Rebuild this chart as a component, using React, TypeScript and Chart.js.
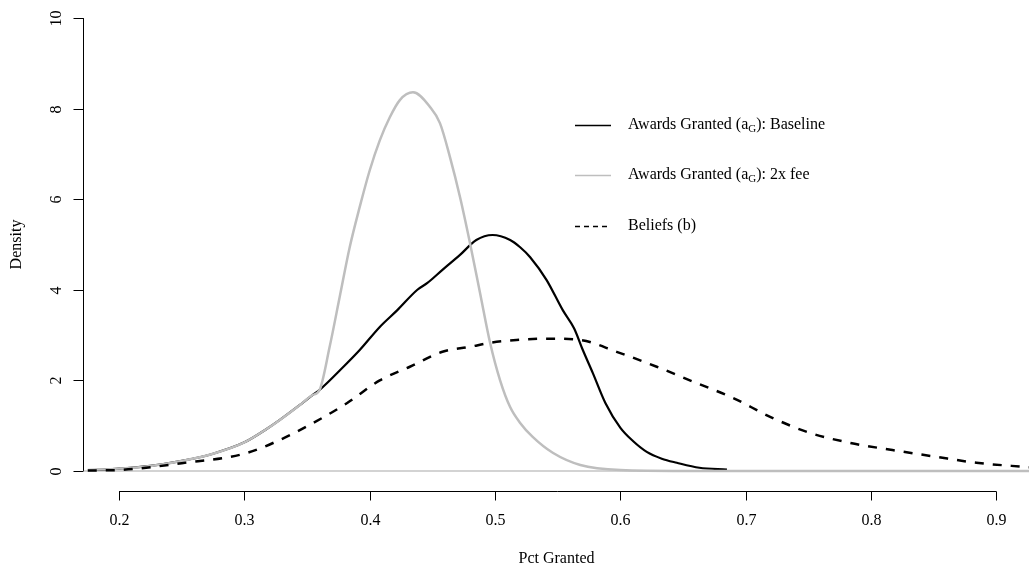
import React, { useEffect, useRef } from "react";
import { Chart, registerables } from "chart.js";

Chart.register(...registerables);

// ---- Data ----
const baselineX = [0.18, 0.2, 0.225, 0.25, 0.275, 0.3, 0.318, 0.328, 0.344, 0.354, 0.36, 0.379, 0.392, 0.408, 0.422, 0.438, 0.446, 0.458, 0.472, 0.485, 0.498, 0.512, 0.52, 0.528, 0.541, 0.554, 0.563, 0.57, 0.578, 0.588, 0.6, 0.61, 0.621, 0.633, 0.645, 0.663, 0.685];
const baselineY = [0.02, 0.05, 0.11, 0.22, 0.38, 0.63, 0.93, 1.12, 1.45, 1.67, 1.79, 2.3, 2.67, 3.18, 3.55, 4.0, 4.15, 4.44, 4.77, 5.1, 5.21, 5.1, 4.94, 4.72, 4.22, 3.55, 3.15, 2.67, 2.16, 1.5, 0.95, 0.66, 0.42, 0.27, 0.18, 0.07, 0.03];

const feeX = [0.175, 0.2, 0.225, 0.25, 0.275, 0.3, 0.318, 0.328, 0.344, 0.354, 0.36, 0.368, 0.376, 0.384, 0.392, 0.4, 0.408, 0.416, 0.424, 0.4345, 0.448, 0.456, 0.464, 0.472, 0.48, 0.488, 0.496, 0.504, 0.512, 0.52, 0.53, 0.546, 0.568, 0.6, 0.65, 0.7, 0.8, 0.926];
const feeY = [0.02, 0.05, 0.11, 0.22, 0.38, 0.63, 0.93, 1.12, 1.45, 1.67, 1.79, 2.74, 3.84, 4.94, 5.83, 6.64, 7.3, 7.81, 8.19, 8.36, 8.04, 7.68, 6.93, 6.05, 5.03, 3.93, 2.83, 2.0, 1.41, 1.06, 0.75, 0.4, 0.13, 0.02, 0, 0, 0, 0];

const beliefsX = [0.175, 0.2, 0.25, 0.3, 0.328, 0.355, 0.382, 0.408, 0.432, 0.458, 0.48, 0.496, 0.517, 0.541, 0.568, 0.597, 0.629, 0.658, 0.69, 0.719, 0.751, 0.783, 0.817, 0.852, 0.884, 0.926];
const beliefsY = [0.01, 0.02, 0.17, 0.38, 0.68, 1.06, 1.5, 2.0, 2.3, 2.63, 2.74, 2.83, 2.89, 2.92, 2.89, 2.63, 2.3, 1.97, 1.61, 1.2, 0.84, 0.62, 0.46, 0.31, 0.18, 0.08];

const xTicks = [0.2, 0.3, 0.4, 0.5, 0.6, 0.7, 0.8, 0.9];
const yTicks = [0, 2, 4, 6, 8, 10];

const legendItems = [
  { pre: "Awards Granted (a", sub: "G", post: "): Baseline", color: "#000000", dash: [] as number[] },
  { pre: "Awards Granted (a", sub: "G", post: "): 2x fee", color: "#bebebe", dash: [] as number[] },
  { pre: "Beliefs (b)", sub: "", post: "", color: "#000000", dash: [5, 4] },
];

const xTitle = "Pct Granted";
const yTitle = "Density";

const FONT = "'Liberation Serif', 'Times New Roman', serif";

const toPts = (xs: number[], ys: number[]) => xs.map((x, i) => ({ x, y: ys[i] }));

const axesPlugin = {
  id: "rAxes",
  beforeDatasetsDraw(chart: any) {
    const { ctx, chartArea, scales } = chart;
    const y0 = scales.y.getPixelForValue(0);
    ctx.save();
    ctx.strokeStyle = "#c4c4c4";
    ctx.lineWidth = 1.5;
    ctx.beginPath();
    ctx.moveTo(chartArea.left, y0);
    ctx.lineTo(chartArea.right, y0);
    ctx.stroke();
    ctx.restore();
  },
  afterDraw(chart: any) {
    const { ctx, chartArea, scales } = chart;
    const xs = scales.x;
    const ys = scales.y;
    ctx.save();
    ctx.strokeStyle = "#000";
    ctx.fillStyle = "#000";
    ctx.lineWidth = 1;

    // Y axis
    const ax = Math.round(chartArea.left) - 0.5;
    ctx.beginPath();
    ctx.moveTo(ax, ys.getPixelForValue(yTicks[0]));
    ctx.lineTo(ax, ys.getPixelForValue(yTicks[yTicks.length - 1]));
    ctx.stroke();
    ctx.font = `16px ${FONT}`;
    ctx.textAlign = "center";
    ctx.textBaseline = "middle";
    yTicks.forEach((t) => {
      const py = Math.round(ys.getPixelForValue(t)) + 0.5;
      ctx.beginPath();
      ctx.moveTo(ax - 10, py);
      ctx.lineTo(ax, py);
      ctx.stroke();
      ctx.save();
      ctx.translate(57, py);
      ctx.rotate(-Math.PI / 2);
      ctx.fillText(String(t), 0, 0);
      ctx.restore();
    });

    // X axis
    const ay = 491.5;
    ctx.beginPath();
    ctx.moveTo(xs.getPixelForValue(xTicks[0]), ay);
    ctx.lineTo(xs.getPixelForValue(xTicks[xTicks.length - 1]), ay);
    ctx.stroke();
    xTicks.forEach((t) => {
      const px = Math.round(xs.getPixelForValue(t)) + 0.5;
      ctx.beginPath();
      ctx.moveTo(px, ay);
      ctx.lineTo(px, ay + 9);
      ctx.stroke();
      ctx.fillText(t.toFixed(1), px, 521);
    });

    // Titles
    ctx.fillText(xTitle, (chartArea.left + chartArea.right) / 2, 559);
    ctx.save();
    ctx.translate(17, (chartArea.top + chartArea.bottom) / 2);
    ctx.rotate(-Math.PI / 2);
    ctx.fillText(yTitle, 0, 0);
    ctx.restore();

    // Legend
    const rows = [125, 175, 226];
    legendItems.forEach((it, i) => {
      const ly = rows[i] + 0.5;
      ctx.save();
      ctx.strokeStyle = it.color;
      ctx.lineWidth = 1.5;
      ctx.setLineDash(it.dash);
      ctx.beginPath();
      ctx.moveTo(575, ly);
      ctx.lineTo(611, ly);
      ctx.stroke();
      ctx.restore();
      ctx.textAlign = "left";
      ctx.textBaseline = "middle";
      ctx.font = `16px ${FONT}`;
      let tx = 628;
      ctx.fillText(it.pre, tx, rows[i]);
      tx += ctx.measureText(it.pre).width;
      if (it.sub) {
        ctx.font = `11px ${FONT}`;
        ctx.fillText(it.sub, tx, rows[i] + 4);
        tx += ctx.measureText(it.sub).width;
        ctx.font = `16px ${FONT}`;
      }
      if (it.post) ctx.fillText(it.post, tx, rows[i]);
    });
    ctx.restore();
  },
};

export default function App() {
  const canvasRef = useRef<HTMLCanvasElement | null>(null);

  useEffect(() => {
    if (!canvasRef.current) return;
    const chart = new Chart(canvasRef.current, {
      type: "line",
      data: {
        datasets: [
          {
            label: "Beliefs (b)",
            data: toPts(beliefsX, beliefsY),
            borderColor: "#000000",
            borderWidth: 2.5,
            borderDash: [9, 9],
            pointRadius: 0,
            cubicInterpolationMode: "monotone",
            fill: false,
          },
          {
            label: "Awards Granted (aG): 2x fee",
            data: toPts(feeX, feeY),
            borderColor: "#bebebe",
            borderWidth: 2.5,
            pointRadius: 0,
            cubicInterpolationMode: "monotone",
            fill: false,
          },
          {
            label: "Awards Granted (aG): Baseline",
            data: toPts(baselineX, baselineY),
            borderColor: "#000000",
            borderWidth: 2.2,
            pointRadius: 0,
            cubicInterpolationMode: "monotone",
            fill: false,
          },
        ],
      },
      options: {
        animation: false,
        responsive: false,
        devicePixelRatio: 1,
        layout: { padding: { left: 84, right: 0, top: 0, bottom: 82 } },
        plugins: { legend: { display: false }, tooltip: { enabled: false } },
        scales: {
          x: { type: "linear", min: 0.172, max: 0.926, display: false },
          y: { type: "linear", min: -0.4, max: 10.4, display: false },
        },
      },
      plugins: [axesPlugin],
    });
    return () => chart.destroy();
  }, []);

  return (
    <div style={{ position: "absolute", left: 0, top: 0, width: 1029, height: 571, background: "#fff" }}>
      <canvas ref={canvasRef} width={1029} height={571} />
    </div>
  );
}
